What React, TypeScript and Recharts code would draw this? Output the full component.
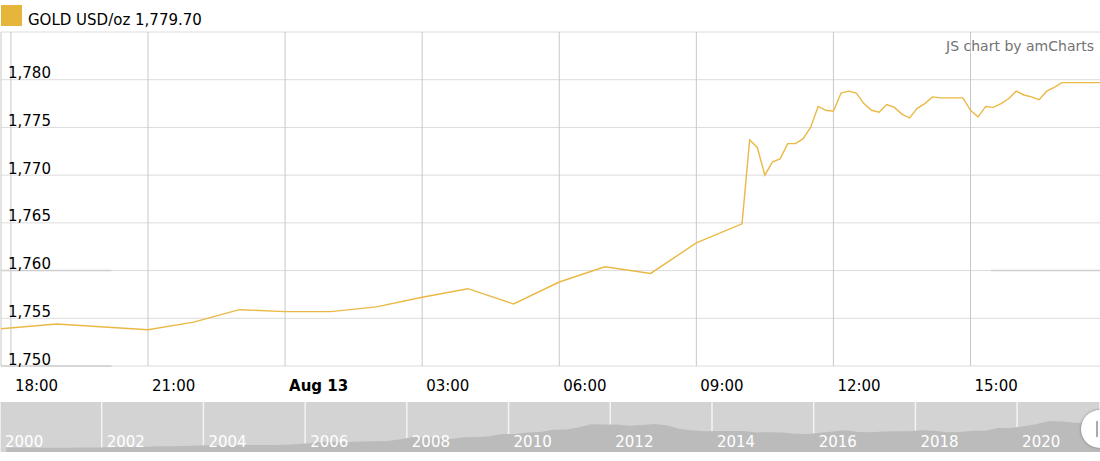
import React from 'react';
import {
  LineChart,
  Line,
  XAxis,
  YAxis,
  CartesianGrid,
  ReferenceLine,
  AreaChart,
  Area,
} from 'recharts';

// intraday gold quotes, Aug 12 17:47 -> Aug 13 17:50
const times = [
  '17:47', '19:00', '21:00', '22:00', '23:00', '00:00', '01:00', '02:00',
  '03:00', '04:00', '05:00', '06:00', '07:00', '08:00', '09:00', '10:00',
  '10:10', '10:20', '10:30', '10:40', '10:50', '11:00', '11:10', '11:20',
  '11:30', '11:40', '11:50', '12:00', '12:10', '12:20', '12:30', '12:40',
  '12:50', '13:00', '13:10', '13:20', '13:30', '13:40', '13:50', '14:00',
  '14:10', '14:20', '14:30', '14:40', '14:50', '15:00', '15:10', '15:20',
  '15:30', '15:40', '15:50', '16:00', '16:10', '16:20', '16:30', '16:40',
  '16:50', '17:00', '17:10', '17:20', '17:30', '17:40', '17:50',
];
const prices = [
  1753.9, 1754.4, 1753.8, 1754.6, 1755.9, 1755.7, 1755.7, 1756.2,
  1757.2, 1758.1, 1756.5, 1758.8, 1760.4, 1759.7, 1762.9, 1764.9,
  1773.7, 1772.9, 1770.0, 1771.4, 1771.7, 1773.3, 1773.3, 1773.8,
  1775.0, 1777.2, 1776.8, 1776.7, 1778.6, 1778.8, 1778.6, 1777.5,
  1776.8, 1776.6, 1777.4, 1777.1, 1776.4, 1776.0, 1777.0, 1777.5,
  1778.2, 1778.1, 1778.1, 1778.1, 1778.1, 1776.8, 1776.1, 1777.2,
  1777.1, 1777.5, 1778.0, 1778.8, 1778.4, 1778.2, 1777.9, 1778.8,
  1779.2, 1779.7, 1779.7, 1779.7, 1779.7, 1779.7, 1779.7,
];
const xTicks = [0, 3, 6, 9, 12, 15, 18, 21];
const xTickLabels = ['18:00', '21:00', 'Aug 13', '03:00', '06:00', '09:00', '12:00', '15:00'];
const yTicks = [1750, 1755, 1760, 1765, 1770, 1775, 1780, 1785];

// long-term history for the scrollbar, quarterly averages 2000 Q1 .. 2021 Q3
const navPrices = [
  290, 280, 277, 268, 263, 260, 272, 278, 290, 313, 314, 322,
  352, 347, 363, 392, 408, 393, 401, 434, 427, 427, 440, 485,
  554, 627, 622, 614, 650, 667, 680, 788, 925, 896, 871, 795,
  908, 922, 960, 1100, 1109, 1197, 1227, 1367, 1386, 1506, 1702, 1688,
  1690, 1609, 1652, 1718, 1632, 1415, 1326, 1272, 1293, 1288, 1282, 1201,
  1218, 1192, 1124, 1105, 1183, 1260, 1335, 1221, 1219, 1257, 1278, 1275,
  1329, 1306, 1213, 1226, 1304, 1309, 1472, 1481, 1583, 1711, 1909, 1874,
  1794, 1816, 1780,
];
const navYears = [2000, 2002, 2004, 2006, 2008, 2010, 2012, 2014, 2016, 2018, 2020];

// hours since Aug 12 18:00; only the first quote is before 18:00 on Aug 12
const toHours = (t: string, i: number) => {
  const [hh, mm] = t.split(':').map(Number);
  let h = hh + mm / 60 - 18;
  if (i > 0 && h < 0) h += 24;
  return h;
};

const data = times.map((t, i) => ({ h: toHours(t, i), price: prices[i] }));
const navData = navPrices.map((p, i) => ({ year: 2000 + i * 0.25 + 0.125, price: p }));
navData.push({ year: 2021.63, price: 1780 });

const firstH = data[0].h;
const lastH = data[data.length - 1].h;

const FONT = "Verdana, 'DejaVu Sans', sans-serif";
const GOLD = '#eab945';

const XTick = (props: any) => {
  const { x, payload } = props;
  const idx = xTicks.indexOf(payload.value);
  const label = idx >= 0 ? xTickLabels[idx] : '';
  return (
    <text
      x={x + 4}
      y={391}
      fontSize={15}
      fontFamily={FONT}
      fill="#000"
      fontWeight={label === 'Aug 13' ? 'bold' : 'normal'}
    >
      {label}
    </text>
  );
};

const YTick = (props: any) => {
  const { y, payload } = props;
  if (payload.value >= 1785) return <g />;
  return (
    <text x={8} y={y - 1.5} fontSize={15} fontFamily={FONT} fill="#000">
      {payload.value.toLocaleString('en-US')}
    </text>
  );
};

const NavTick = (props: any) => {
  const { x, payload } = props;
  return (
    <text x={x + 5} y={45} fontSize={15} fontFamily={FONT} fill="#fff">
      {payload.value}
    </text>
  );
};

export default function App() {
  return (
    <div
      style={{
        position: 'absolute',
        top: 0,
        left: 0,
        width: 1100,
        height: 461,
        overflow: 'hidden',
        background: '#fff',
        fontFamily: FONT,
      }}
    >
      <div style={{ position: 'absolute', top: 0, left: 0 }}>
        {/* a bit wider than the window so the plot's right edge sits just outside */}
        <LineChart width={1103} height={400} data={data} margin={{ top: 32, right: 0, bottom: 0, left: 0 }}>
          <CartesianGrid horizontal vertical={false} stroke="#dcdcdc" />
          <CartesianGrid horizontal={false} vertical stroke="#c8c8c8" />
          <XAxis
            dataKey="h"
            type="number"
            domain={[firstH, lastH + 0.066]}
            ticks={xTicks}
            interval={0}
            height={34}
            axisLine={false}
            tickLine={false}
            tick={<XTick />}
            allowDataOverflow
          />
          <YAxis
            type="number"
            domain={[1750, 1785]}
            ticks={yTicks}
            interval={0}
            width={1}
            axisLine={false}
            tickLine={false}
            tick={<YTick />}
          />
          <ReferenceLine segment={[{ x: firstH, y: 1760 }, { x: 2.2, y: 1760 }]} stroke="#cfcfcf" strokeWidth={1.5} />
          <ReferenceLine segment={[{ x: firstH, y: 1750 }, { x: 2.2, y: 1750 }]} stroke="#cfcfcf" strokeWidth={1.5} />
          <ReferenceLine segment={[{ x: 21.45, y: 1760 }, { x: lastH, y: 1760 }]} stroke="#cfcfcf" strokeWidth={1.5} />
          <Line
            type="linear"
            dataKey="price"
            stroke={GOLD}
            strokeWidth={1.4}
            dot={false}
            isAnimationActive={false}
          />
        </LineChart>
      </div>

      <svg width={1100} height={60} style={{ position: 'absolute', top: 0, left: 0 }}>
        <rect x={1} y={5} width={21} height={21} fill="#e6b63c" />
        <text x={28} y={25} fontSize={15} fontFamily={FONT} fill="#000">
          GOLD USD/oz 1,779.70
        </text>
        <text x={1094} y={51} fontSize={14} fontFamily={FONT} fill="#737373" textAnchor="end">
          JS chart by amCharts
        </text>
      </svg>

      <div style={{ position: 'absolute', top: 402, left: 0, width: 1100, height: 50, background: '#d3d3d3' }}>
        <AreaChart width={1100} height={50} data={navData} margin={{ top: 0, right: 0, bottom: 0, left: 0 }}>
          <YAxis type="number" domain={[0, 3070]} hide />
          <Area
            type="linear"
            dataKey="price"
            stroke="none"
            fill="#bbbbbb"
            fillOpacity={1}
            isAnimationActive={false}
          />
          <CartesianGrid horizontal={false} vertical stroke="#f4f4f4" strokeWidth={1.5} />
          <XAxis
            dataKey="year"
            type="number"
            domain={[2000, 2021.63]}
            ticks={navYears}
            interval={0}
            height={20}
            mirror
            axisLine={false}
            tickLine={false}
            tick={<NavTick />}
          />
        </AreaChart>
      </div>

      <div
        style={{
          position: 'absolute',
          left: 1081,
          top: 410,
          width: 38,
          height: 38,
          borderRadius: '50%',
          background: '#fff',
          boxShadow: '0 0 3px rgba(0,0,0,0.35)',
        }}
      >
        <div style={{ position: 'absolute', left: 15, top: 11, width: 2, height: 16, background: '#aaa' }} />
      </div>
    </div>
  );
}
